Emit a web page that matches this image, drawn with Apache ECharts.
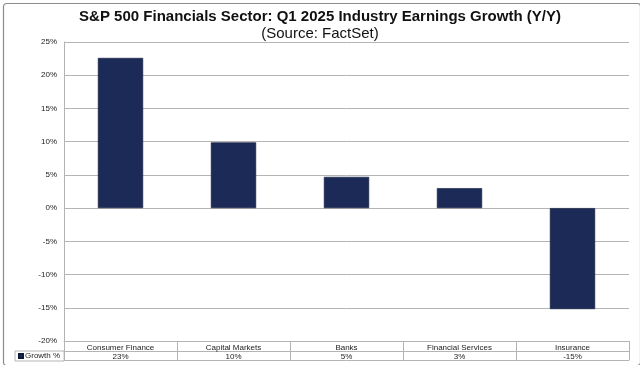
<!DOCTYPE html>
<html><head><meta charset="utf-8">
<script src="https://cdn.jsdelivr.net/npm/echarts@6/dist/echarts.min.js"></script>
<style>html,body{margin:0;padding:0;background:#fff}#c{width:640px;height:365px}</style>
</head><body><div id="c"></div>
<script>
const categories = ['Consumer Finance', 'Capital Markets', 'Banks', 'Financial Services', 'Insurance'];
const growth = [22.6, 9.9, 4.7, 3.0, -15.2];
const growthLabels = ['23%', '10%', '5%', '3%', '-15%'];
const yTicks = { min: -20, max: 25, interval: 5 };

const FONT = '"Liberation Sans", Arial, sans-serif';
const GRID = '#b4b4b4';
const chart = echarts.init(document.getElementById('c'), null, { renderer: 'canvas' });
chart.setOption({
  animation: false,
  backgroundColor: '#fff',
  textStyle: { fontFamily: FONT },
  title: [
    { text: 'S&P 500 Financials Sector: Q1 2025 Industry Earnings Growth (Y/Y)', left: 'center', top: 4,
      textStyle: { fontSize: 15, fontWeight: 'bold', color: '#111', fontFamily: FONT } },
    { text: '(Source: FactSet)', left: 'center', top: 21,
      textStyle: { fontSize: 15, fontWeight: 'normal', color: '#111', fontFamily: FONT } }
  ],
  legend: {
    data: ['Growth %'], left: 15, top: 351, width: 49, height: 9,
    itemWidth: 4, itemHeight: 4, itemGap: 2, padding: [1, 4, 1, 3],
    borderColor: GRID, borderWidth: 1,
    icon: 'rect',
    textStyle: { fontSize: 8, color: '#222', fontFamily: FONT, padding: [0, 0, 0, -3] }
  },
  grid: { left: 64, right: 11, top: 42, bottom: 24, containLabel: false },
  xAxis: [
    { type: 'category', data: categories, position: 'bottom',
      axisLine: { onZero: false, lineStyle: { color: GRID } },
      axisTick: { show: true, length: 19, alignWithLabel: false, lineStyle: { color: GRID } },
      axisLabel: { margin: 3, fontSize: 8, color: '#222', interval: 0, fontFamily: FONT },
      splitLine: { show: false } },
    { type: 'category', data: growthLabels, position: 'bottom', offset: 10,
      axisLine: { onZero: false, lineStyle: { color: GRID } },
      axisTick: { show: false },
      axisLabel: { margin: 2, fontSize: 8, color: '#222', interval: 0, fontFamily: FONT } },
    { type: 'category', data: growthLabels, position: 'bottom', offset: 19,
      axisLine: { onZero: false, lineStyle: { color: GRID } },
      axisTick: { show: false }, axisLabel: { show: false } }
  ],
  yAxis: {
    type: 'value', min: yTicks.min, max: yTicks.max, interval: yTicks.interval,
    axisLine: { show: true, lineStyle: { color: GRID } },
    axisTick: { show: false },
    axisLabel: { formatter: '{value}%', fontSize: 8, color: '#222', margin: 7, fontFamily: FONT },
    splitLine: { show: true, lineStyle: { color: GRID, width: 1 } }
  },
  series: [{
    name: 'Growth %', type: 'bar', data: growth, barWidth: '40%',
    itemStyle: { color: '#1b2a57', borderColor: '#0f1a3a', borderWidth: 0.6 }
  }],
  graphic: [{
    type: 'rect', left: 1, top: 1, shape: { width: 637, height: 362, r: 3 },
    style: { fill: 'none', stroke: '#8c8c8c', lineWidth: 1.2 }, silent: true
  }]
});
</script></body></html>
